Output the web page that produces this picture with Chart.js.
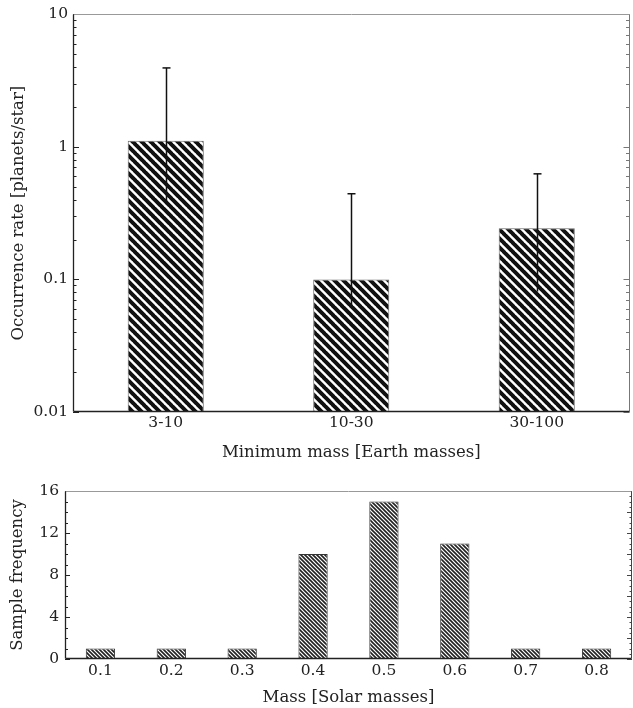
<!DOCTYPE html>
<html>
<head>
<meta charset="utf-8">
<script src="https://cdn.jsdelivr.net/npm/chart.js@4/dist/chart.umd.min.js"></script>
<style>
    html, body { margin: 0; padding: 0; background: #fff; }
    #wrap { position: relative; width: 633px; height: 708px; }
    #topChart { position: absolute; left: 0; top: 0; }
    #bottomChart { position: absolute; left: 0; top: 470px; }
</style>
</head>
<body>
<div id="wrap">
    <canvas id="topChart" width="633" height="470"></canvas>
    <canvas id="bottomChart" width="633" height="238"></canvas>
</div>
<script>
// Painel superior: taxa de ocorrência por faixa de massa
const massBins = ['3-10', '10-30', '30-100'];
const occurrence = [1.11, 0.1, 0.243];
const occurrenceLow = [0.368, 0.063, 0.081];
const occurrenceHigh = [3.94, 0.443, 0.626];
const logTicks = [0.01, 0.1, 1, 10];

// Painel inferior: massa das estrelas da amostra
const stellarMass = ['0.1', '0.2', '0.3', '0.4', '0.5', '0.6', '0.7', '0.8'];
const sampleCount = [1, 1, 1, 10, 15, 11, 1, 1];
const countTicks = [0, 4, 8, 12, 16];

const SERIF = "'DejaVu Serif', serif";
const TEXT = '#222';

function hachura(size, lineW, color) {
    const c = document.createElement('canvas');
    c.width = size;
    c.height = size;
    const g = c.getContext('2d');
    g.fillStyle = '#fff';
    g.fillRect(0, 0, size, size);
    g.strokeStyle = color;
    g.lineWidth = lineW;
    g.beginPath();
    for (let k = -1; k <= 1; k++) {
        g.moveTo(k * size - 1, -1);
        g.lineTo(k * size + size + 1, size + 1);
    }
    g.stroke();
    return g.createPattern(c, 'repeat');
}

function linha(ctx, x1, y1, x2, y2) {
    ctx.beginPath();
    ctx.moveTo(x1, y1);
    ctx.lineTo(x2, y2);
    ctx.stroke();
}

// moldura e marcas internas dos eixos
const molduraPlugin = {
    id: 'moldura',
    afterDatasetsDraw(chart, args, opts) {
        const { ctx, chartArea: a } = chart;
        const y = chart.scales.y;
        ctx.save();
        ctx.lineWidth = 1;
        ctx.strokeStyle = '#222';
        opts.left.forEach(([v, len]) => {
            const py = Math.round(y.getPixelForValue(v)) + 0.5;
            linha(ctx, a.left, py, a.left + len, py);
        });
        ctx.strokeStyle = opts.rightColor;
        opts.right.forEach(([v, len]) => {
            const py = Math.round(y.getPixelForValue(v)) + 0.5;
            linha(ctx, a.right, py, a.right - len, py);
        });
        const l = Math.round(a.left) + 0.5;
        const r = Math.round(a.right) - 0.5;
        const t = Math.round(a.top) + 0.5;
        const b = Math.round(a.bottom) - 0.5;
        ctx.strokeStyle = '#999';
        linha(ctx, l, t, r, t);
        ctx.strokeStyle = opts.rightColor;
        linha(ctx, r, t, r, b);
        ctx.strokeStyle = '#222';
        ctx.lineWidth = 1.3;
        linha(ctx, l, t, l, b);
        linha(ctx, l, b, r, b);
        ctx.restore();
    }
};

const errosPlugin = {
    id: 'erros',
    afterDatasetsDraw(chart) {
        const { ctx } = chart;
        const y = chart.scales.y;
        const meta = chart.getDatasetMeta(0);
        ctx.save();
        ctx.strokeStyle = '#111';
        ctx.lineWidth = 1.5;
        meta.data.forEach((bar, i) => {
            const x = Math.round(bar.x) + 0.5;
            const yl = y.getPixelForValue(occurrenceLow[i]);
            const yh = y.getPixelForValue(occurrenceHigh[i]);
            linha(ctx, x, yl, x, yh);
            linha(ctx, x - 4, yh, x + 4, yh);
        });
        ctx.restore();
    }
};

function marcasLog() {
    const marcas = [];
    logTicks.forEach((d, i) => {
        marcas.push([d, 6]);
        if (i < logTicks.length - 1) {
            for (let m = 2; m <= 9; m++) marcas.push([d * m, 3.5]);
        }
    });
    return marcas;
}

function marcasLineares(maior, menor, comprMaior, comprMenor) {
    const marcas = [];
    for (let v = 0; v <= 16 + 1e-9; v += menor) {
        const ehMaior = Math.abs(v / maior - Math.round(v / maior)) < 1e-6;
        marcas.push([v, ehMaior ? comprMaior : comprMenor]);
    }
    return marcas;
}

Chart.defaults.font.family = SERIF;
Chart.defaults.color = TEXT;

function criarGraficoOcorrencia() {
    const ctx = document.getElementById('topChart').getContext('2d');
    new Chart(ctx, {
        type: 'bar',
        data: {
            labels: massBins,
            datasets: [{
                data: occurrence,
                backgroundColor: hachura(9, 4, '#111'),
                borderColor: '#666',
                borderWidth: 1,
                barPercentage: 0.41,
                categoryPercentage: 1
            }]
        },
        options: {
            responsive: false,
            animation: false,
            layout: { padding: { top: 14, right: 3.5, left: 0, bottom: 0 } },
            plugins: {
                legend: { display: false },
                tooltip: { enabled: false },
                moldura: { left: marcasLog(), right: marcasLog(), rightColor: '#777' }
            },
            scales: {
                x: {
                    grid: { display: false, drawTicks: false },
                    border: { display: false },
                    ticks: { font: { size: 15.5 }, padding: 2, color: TEXT },
                    title: {
                        display: true,
                        text: 'Minimum mass [Earth masses]',
                        font: { size: 16.5 },
                        color: TEXT,
                        padding: { top: 0, bottom: 7 }
                    },
                    afterFit: s => { s.height = 58; }
                },
                y: {
                    type: 'logarithmic',
                    min: 0.01,
                    max: 10,
                    grid: { display: false, drawTicks: false },
                    border: { display: false },
                    afterBuildTicks: s => { s.ticks = logTicks.map(v => ({ value: v })); },
                    ticks: {
                        font: { size: 15.5 },
                        padding: 5,
                        color: TEXT,
                        callback: v => String(v)
                    },
                    title: {
                        display: true,
                        text: 'Occurrence rate [planets/star]',
                        font: { size: 16.5 },
                        color: TEXT,
                        padding: { top: 9, bottom: 0 }
                    },
                    afterFit: s => { s.width = 73; }
                }
            }
        },
        plugins: [molduraPlugin, errosPlugin]
    });
}

function criarGraficoAmostra() {
    const ctx = document.getElementById('bottomChart').getContext('2d');
    new Chart(ctx, {
        type: 'bar',
        data: {
            labels: stellarMass,
            datasets: [{
                data: sampleCount,
                backgroundColor: hachura(4, 1.6, '#222'),
                borderColor: '#333',
                borderWidth: 1,
                barPercentage: 0.413,
                categoryPercentage: 1
            }]
        },
        options: {
            responsive: false,
            animation: false,
            layout: { padding: { top: 21, right: 1, left: 0, bottom: 0 } },
            plugins: {
                legend: { display: false },
                tooltip: { enabled: false },
                moldura: {
                    left: marcasLineares(4, 1, 5, 3),
                    right: marcasLineares(2, 0.5, 5, 2.5),
                    rightColor: '#444'
                }
            },
            scales: {
                x: {
                    grid: { display: false, drawTicks: false },
                    border: { display: false },
                    ticks: { font: { size: 15.5 }, padding: 3, color: TEXT },
                    title: {
                        display: true,
                        text: 'Mass [Solar masses]',
                        font: { size: 16.5 },
                        color: TEXT,
                        padding: { top: 0, bottom: 0 }
                    },
                    afterFit: s => { s.height = 49; }
                },
                y: {
                    min: 0,
                    max: 16,
                    grid: { display: false, drawTicks: false },
                    border: { display: false },
                    afterBuildTicks: s => { s.ticks = countTicks.map(v => ({ value: v })); },
                    ticks: { font: { size: 15.5 }, padding: 6, color: TEXT },
                    title: {
                        display: true,
                        text: 'Sample frequency',
                        font: { size: 16.5 },
                        color: TEXT,
                        padding: { top: 8, bottom: 0 }
                    },
                    afterFit: s => { s.width = 65; }
                }
            }
        },
        plugins: [molduraPlugin]
    });
}

criarGraficoOcorrencia();
criarGraficoAmostra();
</script>
</body>
</html>
